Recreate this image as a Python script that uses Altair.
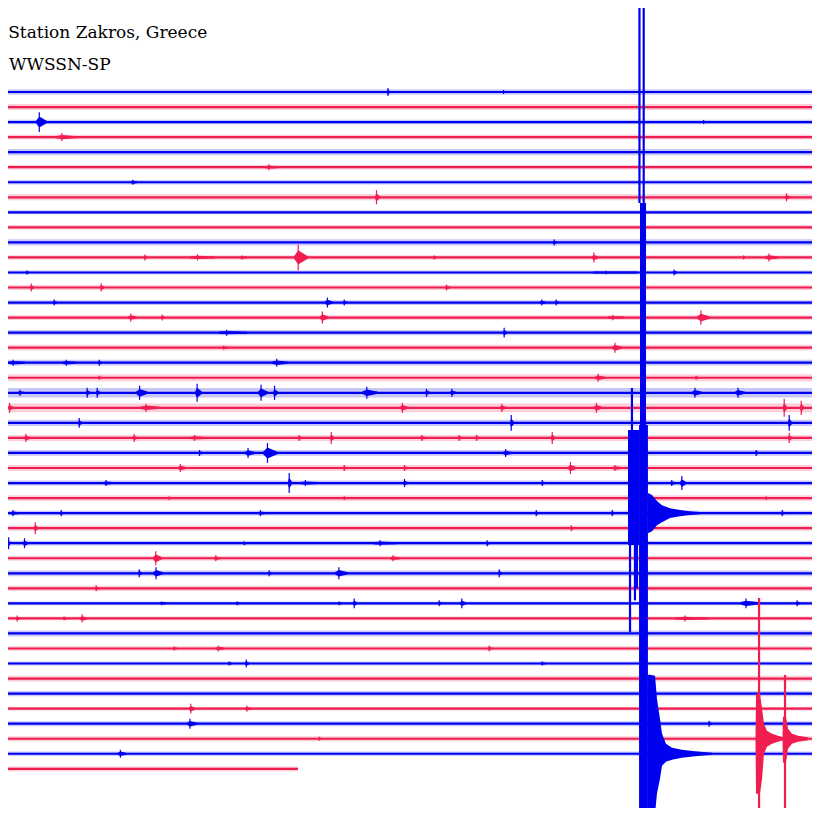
import altair as alt
import pandas as pd

# ---------------- data (time in minutes within the hour, amplitude in trace spacings) ----------------
n_traces = 46
trace_end = [60.0] * 45 + [21.8]
# background noise amplitude of each trace (half peak-to-peak)
trace_noise = [0.19, 0.20, 0.15, 0.16, 0.21, 0.15, 0.15, 0.20, 0.13, 0.15,
               0.21, 0.15, 0.13, 0.16, 0.16, 0.16, 0.17, 0.19, 0.19, 0.23,
               0.32, 0.29, 0.21, 0.20, 0.19, 0.20, 0.17, 0.19, 0.16, 0.17,
               0.16, 0.17, 0.19, 0.17, 0.13, 0.13, 0.20, 0.15, 0.13, 0.19,
               0.17, 0.13, 0.17, 0.17, 0.15, 0.16]

# small local bursts: trace, start, end, peak amplitude
burst_trace = [0, 0, 2, 2, 3, 5, 6, 7, 7, 10,
               11, 11, 11, 11, 11, 11, 11, 11,
               12, 12, 12, 13, 13, 13,
               14, 14, 14, 14, 14,
               15, 15, 15, 15, 15,
               16, 16, 16, 17, 17,
               18, 18, 18, 18, 19, 19, 19,
               20, 20, 20, 20, 20, 20, 20, 20, 20, 20, 20, 20,
               21, 21, 21, 21, 21, 21, 21,
               22, 22, 22,
               23, 23, 23, 23, 23, 23, 23, 23, 23, 23,
               24, 24, 24, 24, 24,
               25, 25, 25, 25, 25,
               26, 26, 26, 26, 26, 26, 26,
               27, 27, 27,
               28, 28, 28, 28, 28, 28,
               29, 29,
               30, 30, 30, 30, 30,
               31, 31, 31,
               32, 32, 32, 32, 32,
               33,
               34, 34, 34, 34, 34, 34, 34, 34,
               35, 35, 35, 35,
               37, 37, 37,
               38, 38, 38,
               41, 41, 42, 42, 43, 44]
burst_start = [28.32, 36.80, 2.63, 51.44, 4.02, 19.39, 9.59, 27.44, 57.44, 40.46,
               10.54, 13.90, 17.56, 21.51, 31.68, 43.32, 54.37, 55.98,
               1.90, 43.39, 49.24, 2.20, 7.32, 32.56,
               3.88, 23.78, 25.10, 39.51, 40.61,
               9.37, 11.78, 23.41, 44.49, 51.00,
               15.95, 36.80, 59.63, 16.24, 44.78,
               0.59, 4.54, 7.17, 19.90, 7.17, 43.54, 50.85,
               1.32, 6.29, 7.02, 9.95, 14.27, 18.88, 19.98, 26.49, 31.10, 32.93, 50.63, 53.78,
               0.59, 10.24, 29.27, 36.59, 43.46, 57.29, 58.54,
               5.71, 37.32, 57.66,
               1.76, 9.73, 13.90, 21.80, 24.15, 30.73, 33.51, 34.76, 40.32, 57.66,
               14.49, 17.93, 19.24, 36.80, 55.24,
               13.02, 25.10, 29.49, 41.56, 44.78,
               7.54, 21.07, 21.95, 29.49, 39.59, 49.02, 49.76,
               12.29, 25.10, 55.98,
               0.73, 4.39, 18.88, 39.15, 44.71, 57.15,
               2.49, 41.71,
               0.59, 1.68, 17.78, 27.29, 35.56,
               11.20, 15.66, 28.54,
               10.10, 11.20, 19.61, 24.51, 36.44,
               6.95,
               11.71, 17.27, 24.73, 25.83, 32.05, 33.66, 54.15, 58.24,
               1.17, 4.61, 5.85, 49.39,
               12.66, 15.80, 35.71,
               16.68, 17.93, 39.59,
               13.83, 17.93, 13.68, 51.80, 23.27, 8.63]
burst_end = [28.54, 36.95, 3.44, 51.59, 5.71, 20.34, 10.02, 27.80, 57.80, 40.76,
             10.76, 15.73, 18.07, 22.54, 31.98, 43.76, 54.51, 56.93,
             2.12, 46.61, 49.54, 2.49, 7.61, 32.93,
             4.17, 24.37, 25.39, 39.95, 40.90,
             10.02, 12.07, 24.00, 45.66, 51.95,
             18.07, 37.10, 60.00, 16.68, 45.51,
             1.83, 5.56, 7.46, 21.07, 7.46, 44.27, 51.15,
             1.76, 6.59, 7.32, 10.83, 14.78, 19.61, 20.34, 27.66, 31.46, 33.37, 51.37, 54.51,
             0.95, 11.71, 29.85, 37.02, 44.05, 57.59, 58.83,
             6.00, 37.61, 57.95,
             2.20, 10.02, 15.00, 22.10, 24.44, 31.17, 33.80, 35.12, 40.61, 57.95,
             14.85, 18.66, 20.34, 37.46, 55.54,
             13.61, 25.39, 29.85, 42.15, 45.51,
             8.27, 21.37, 23.27, 29.85, 39.88, 49.46, 50.20,
             12.59, 25.39, 56.27,
             1.46, 4.68, 19.46, 39.44, 45.00, 57.44,
             2.78, 42.00,
             0.73, 2.05, 18.07, 29.05, 35.85,
             11.85, 16.10, 29.27,
             10.39, 11.93, 19.90, 25.46, 36.73,
             7.24,
             12.15, 17.56, 25.02, 26.12, 32.34, 34.10, 55.61, 58.54,
             1.46, 4.90, 6.37, 51.80,
             12.95, 16.39, 36.00,
             16.98, 18.22, 39.88,
             14.27, 18.37, 14.41, 52.10, 23.56, 9.22]
burst_amp = [0.27, 0.13, 0.66, 0.13, 0.27, 0.20, 0.17, 0.47, 0.27, 0.20,
             0.20, 0.20, 0.13, 0.86, 0.13, 0.33, 0.13, 0.27,
             0.13, 0.12, 0.20, 0.27, 0.27, 0.20,
             0.20, 0.33, 0.20, 0.20, 0.20,
             0.27, 0.20, 0.40, 0.17, 0.47,
             0.20, 0.33, 0.40, 0.13, 0.33,
             0.20, 0.20, 0.20, 0.27, 0.13, 0.27, 0.13,
             0.20, 0.33, 0.33, 0.47, 0.60, 0.53, 0.47, 0.40, 0.27, 0.27, 0.33, 0.33,
             0.33, 0.27, 0.33, 0.27, 0.33, 0.60, 0.47,
             0.33, 0.53, 0.53,
             0.27, 0.27, 0.20, 0.20, 0.40, 0.20, 0.20, 0.20, 0.40, 0.33,
             0.20, 0.33, 0.66, 0.27, 0.20,
             0.27, 0.20, 0.20, 0.40, 0.20,
             0.20, 0.66, 0.20, 0.27, 0.20, 0.20, 0.47,
             0.13, 0.13, 0.13,
             0.20, 0.20, 0.20, 0.20, 0.20, 0.20,
             0.40, 0.20,
             0.40, 0.33, 0.13, 0.20, 0.20,
             0.47, 0.20, 0.20,
             0.27, 0.40, 0.20, 0.40, 0.27,
             0.20,
             0.13, 0.13, 0.13, 0.33, 0.20, 0.33, 0.33, 0.20,
             0.20, 0.13, 0.27, 0.20,
             0.13, 0.20, 0.20,
             0.13, 0.27, 0.13,
             0.33, 0.20, 0.33, 0.20, 0.13, 0.27]

# large events: envelopes (above / below the trace)
env_event = (["coda44"] * 11 + ["coda28"] * 8 + ["red43a"] * 9 + ["red43b"] * 7)
env_trace = [44] * 11 + [28] * 8 + [43] * 9 + [43] * 7
env_time = [47.41, 47.56, 47.93, 48.07, 48.29, 48.44, 48.73, 49.17, 49.90, 50.85, 52.10,
            47.41, 47.71, 48.07, 48.44, 49.02, 49.76, 50.49, 51.22,
            55.28, 55.32, 55.61, 55.76, 55.90, 56.12, 56.49, 56.93, 57.29,
            57.26, 57.29, 57.51, 57.66, 57.95, 58.39, 59.12]
env_up = [5.25, 5.25, 5.19, 3.66, 2.33, 1.33, 0.66, 0.40, 0.27, 0.17, 0.07,
          1.33, 1.20, 0.80, 0.53, 0.33, 0.20, 0.13, 0.07,
          0.07, 2.99, 2.99, 2.00, 1.00, 0.53, 0.33, 0.20, 0.10,
          0.10, 1.46, 1.46, 0.66, 0.33, 0.20, 0.10]
env_down = [4.39, 4.39, 3.99, 2.66, 1.66, 0.80, 0.53, 0.40, 0.27, 0.17, 0.07,
            1.33, 1.20, 0.80, 0.60, 0.33, 0.20, 0.13, 0.07,
            0.07, 3.66, 3.66, 2.66, 1.00, 0.53, 0.33, 0.20, 0.10,
            0.10, 1.60, 1.60, 0.66, 0.33, 0.20, 0.10]

# saturated (clipped) pen swings: solid blocks and single strokes, in trace units
block_start = [46.83, 46.76, 45.95]
block_end = [47.27, 47.41, 46.76]
block_top = [7.38, 22.14, 22.47]
block_bottom = [22.14, 48.40, 30.12]
block_pen = ["Z", "Z", "Z"]

stroke_time = [46.79, 47.10, 46.24, 46.10, 46.46, 46.61, 55.54, 57.44]
stroke_top = [-5.60, -5.60, 19.68, 30.12, 30.12, 30.12, 33.64, 38.76]
stroke_bottom = [7.38, 7.38, 22.47, 35.90, 33.80, 33.00, 48.40, 47.94]
stroke_pen = ["Z", "Z", "Z", "Z", "Z", "Z", "N", "N"]

label_text = ["Station Zakros, Greece", "WWSSN-SP"]
label_time = [0.60, 0.66]
label_pos = [-3.59, -1.46]

pen_names = ["Z", "N"]
pen_colors = ["#0000F0", "#F01E50"]

# ---------------- tables ----------------
def pen_of(i):
    return pen_names[i % 2]

traces = pd.DataFrame({
    "trace": list(range(n_traces)),
    "pen": [pen_of(i) for i in range(n_traces)],
    "t0": [0.0] * n_traces,
    "t1": trace_end,
    "lo": [i - trace_noise[i] for i in range(n_traces)],
    "hi": [i + trace_noise[i] for i in range(n_traces)],
})

rows, spikes = [], []
for k, (tr, a, b, amp) in enumerate(zip(burst_trace, burst_start, burst_end, burst_amp)):
    base = 0.066
    peak = a + 0.3 * (b - a)
    body = max(base, 0.55 * amp)
    for t, h in ((a, base), (peak, body), (b, base)):
        rows.append({"id": f"b{k}", "pen": pen_of(tr), "t": t, "lo": tr - h, "hi": tr + h})
    spikes.append({"pen": pen_of(tr), "t": peak, "lo": tr - amp, "hi": tr + amp})
bursts = pd.DataFrame(rows)
burst_spikes = pd.DataFrame(spikes)

envelopes = pd.DataFrame({
    "id": env_event,
    "pen": [pen_of(tr) for tr in env_trace],
    "t": env_time,
    "lo": [tr - u for tr, u in zip(env_trace, env_up)],
    "hi": [tr + d for tr, d in zip(env_trace, env_down)],
})

blocks = pd.DataFrame({"t0": block_start, "t1": block_end, "lo": block_top,
                       "hi": block_bottom, "pen": block_pen})
strokes = pd.DataFrame({"t": stroke_time, "lo": stroke_top, "hi": stroke_bottom,
                        "pen": stroke_pen})
labels = pd.DataFrame({"text": label_text, "t": label_time, "y": label_pos})

# ---------------- scales ----------------
xs = alt.Scale(domain=[0.585, 59.415], nice=False, zero=False)
ys = alt.Scale(domain=[-5.585, 47.606], nice=False, zero=False, reverse=True)
cs = alt.Scale(domain=pen_names, range=pen_colors)
col = alt.Color("pen:N", scale=cs, legend=None)

fuzz_layer = alt.Chart(traces).mark_rect(clip=True, opacity=0.22).encode(
    x=alt.X("t0:Q", scale=xs, axis=None), x2="t1:Q",
    y=alt.Y("lo:Q", scale=ys, axis=None), y2="hi:Q", color=col)

core_layer = alt.Chart(traces).mark_rule(clip=True, strokeWidth=2.2).encode(
    x=alt.X("t0:Q", scale=xs, axis=None), x2="t1:Q",
    y=alt.Y("trace:Q", scale=ys, axis=None), color=col)

burst_layer = alt.Chart(bursts).mark_area(clip=True).encode(
    x=alt.X("t:Q", scale=xs, axis=None),
    y=alt.Y("lo:Q", scale=ys, axis=None, stack=None), y2="hi:Q",
    detail="id:N", color=col)

spike_layer = alt.Chart(burst_spikes).mark_rule(clip=True, strokeWidth=1.2).encode(
    x=alt.X("t:Q", scale=xs, axis=None),
    y=alt.Y("lo:Q", scale=ys, axis=None), y2="hi:Q", color=col)

def env_layer(pen):
    return alt.Chart(envelopes).transform_filter(alt.datum.pen == pen).mark_area(clip=True).encode(
        x=alt.X("t:Q", scale=xs, axis=None),
        y=alt.Y("lo:Q", scale=ys, axis=None, stack=None), y2="hi:Q",
        detail="id:N", color=col)

def block_layer(pen):
    return alt.Chart(blocks).transform_filter(alt.datum.pen == pen).mark_rect(clip=True).encode(
        x=alt.X("t0:Q", scale=xs, axis=None), x2="t1:Q",
        y=alt.Y("lo:Q", scale=ys, axis=None), y2="hi:Q", color=col)

def stroke_layer(pen):
    return alt.Chart(strokes).transform_filter(alt.datum.pen == pen).mark_rule(clip=True, strokeWidth=2.2).encode(
        x=alt.X("t:Q", scale=xs, axis=None),
        y=alt.Y("lo:Q", scale=ys, axis=None), y2="hi:Q", color=col)

text_layer = alt.Chart(labels).mark_text(
    align="left", baseline="alphabetic", font="DejaVu Serif", fontSize=17, color="#000000"
).encode(x=alt.X("t:Q", scale=xs, axis=None), y=alt.Y("y:Q", scale=ys, axis=None), text="text:N")

chart = alt.layer(
    fuzz_layer, core_layer, burst_layer, spike_layer,
    env_layer("Z"), block_layer("Z"), stroke_layer("Z"),
    env_layer("N"), stroke_layer("N"),
    text_layer,
).properties(width=804, height=800, padding=0, background="#ffffff").configure_view(stroke=None)

chart.save("out.html", embed_options={"renderer": "svg", "actions": False})
